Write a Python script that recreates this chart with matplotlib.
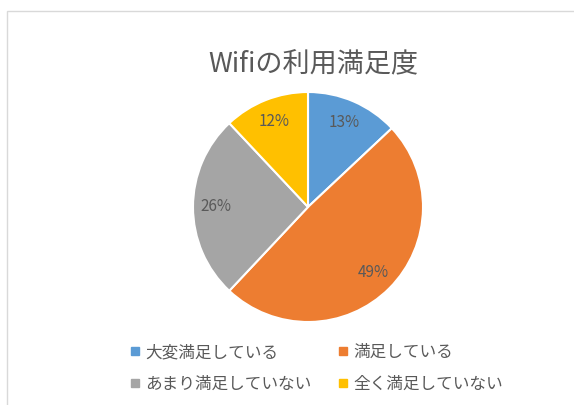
import matplotlib
matplotlib.use("Agg")
import matplotlib.pyplot as plt
from matplotlib.patches import Rectangle
from matplotlib.lines import Line2D

plt.rcParams['font.family'] = ['Noto Sans CJK JP', 'DejaVu Sans']

title = "Wifiの利用満足度"
categories = ["大変満足している", "満足している", "あまり満足していない", "全く満足していない"]
values = [13, 49, 26, 12]
colors = ["#5B9BD5", "#ED7D31", "#A5A5A5", "#FFC000"]
text_color = "#595959"

W, H = 574, 405
fig = plt.figure(figsize=(W / 100, H / 100), dpi=100)

# chart frame (cut off at right / bottom like the screenshot)
fig.add_artist(Rectangle((6.5 / W, -0.5), 2, 1.5 - 10.5 / H, transform=fig.transFigure,
                         fill=False, edgecolor="#D9D9D9", lw=1))

# pie axes: centre (308, 207), radius 115 px
cx, cy, r = 308, 207, 115
pad = 1.05
ax = fig.add_axes([(cx - r * pad) / W, (H - cy - r * pad) / H, 2 * r * pad / W, 2 * r * pad / H])
wedges, texts, autotexts = ax.pie(values, colors=colors, startangle=90, counterclock=False,
                                  autopct='%1.0f%%', pctdistance=0.8,
                                  wedgeprops=dict(edgecolor='white', linewidth=1.5),
                                  textprops=dict(color=text_color, fontsize=11))
ax.set_xlim(-pad, pad)
ax.set_ylim(-pad, pad)
ax.set_aspect('equal')

fig.text(313 / W, 1 - 65 / H, title, ha='center', va='center', fontsize=19.5, color=text_color)

# legend is filled row by row in the original, matplotlib fills by column
order = [0, 2, 1, 3]
handles = [Line2D([], [], marker='s', linestyle='none', markersize=5.5, color=colors[i]) for i in order]
labels = [categories[i] for i in order]
fig.legend(handles, labels, ncol=2, loc='upper left',
           bbox_to_anchor=(130 / W, 1 - 344 / H), frameon=False, fontsize=12,
           labelcolor=text_color, handlelength=0.6, handletextpad=0.3,
           columnspacing=1.6, labelspacing=0.9, borderpad=0, borderaxespad=0)

fig.savefig("out.png", dpi=100)
